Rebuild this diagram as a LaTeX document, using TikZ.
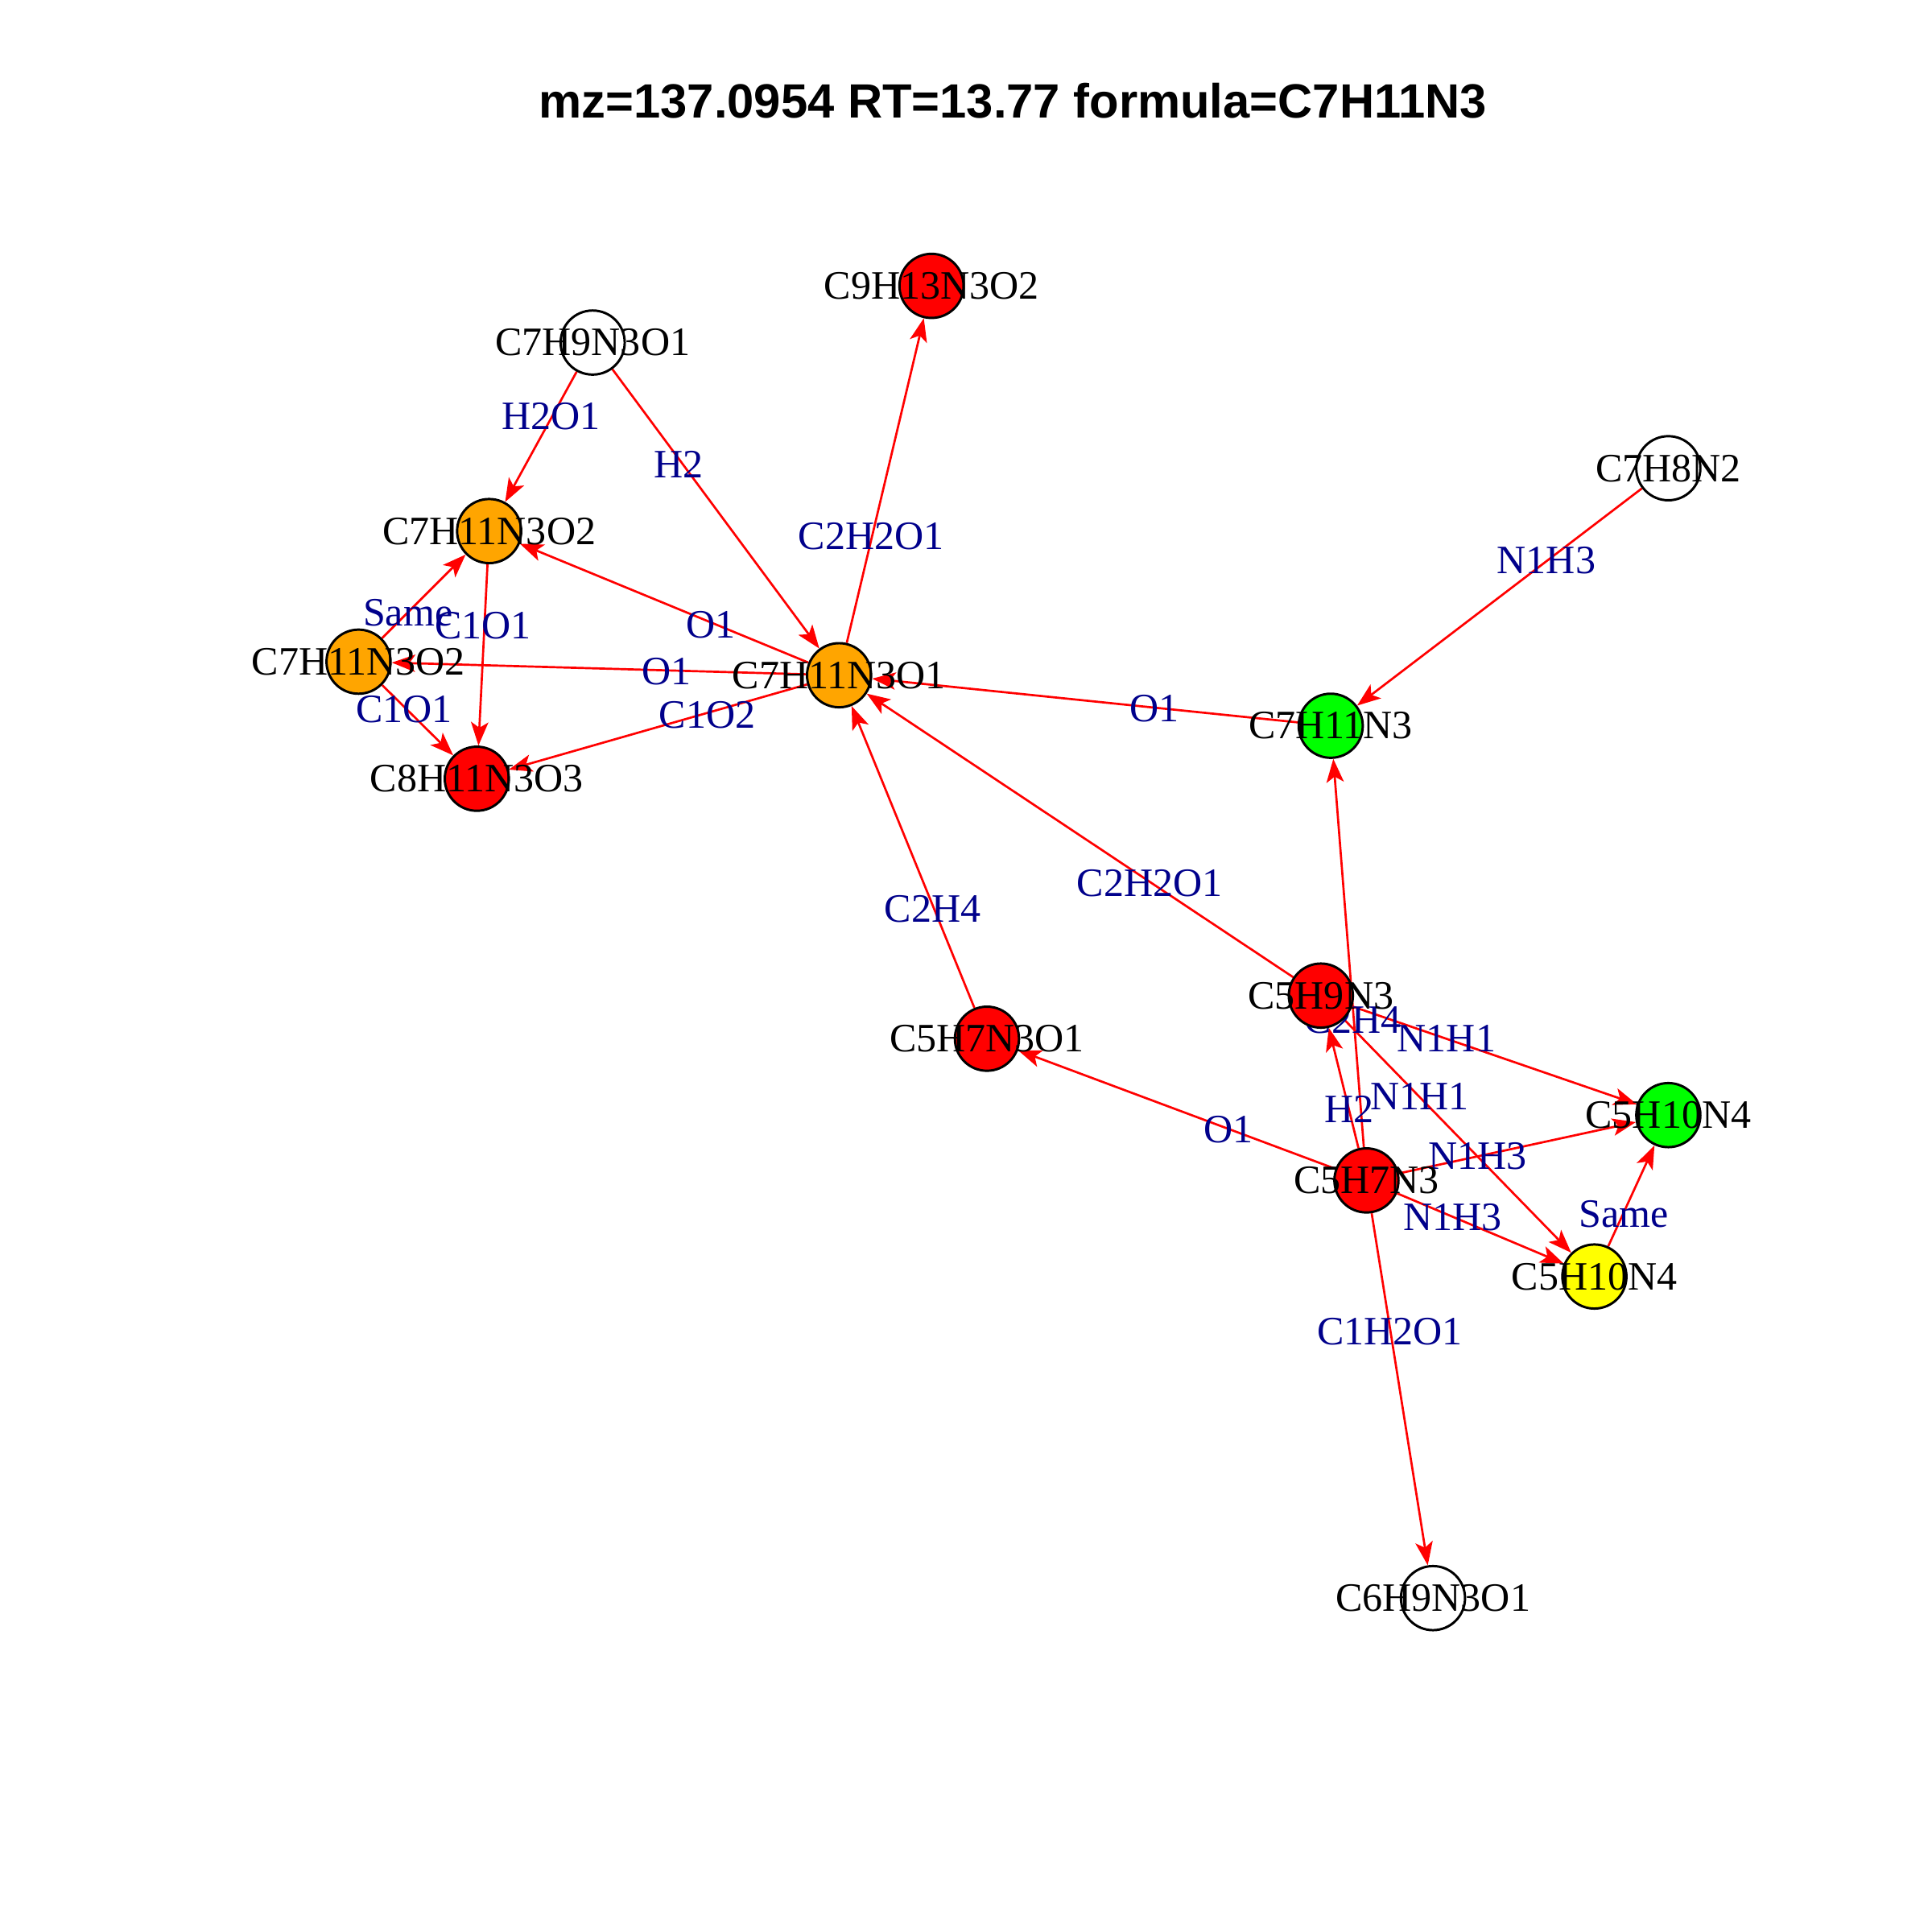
\documentclass[tikz,border=0pt]{standalone}
\usepackage{fontspec}
\setmainfont{Liberation Serif}
\newfontfamily\titlefont{Liberation Sans}
\usetikzlibrary{arrows.meta,backgrounds,calc}
\begin{document}
\begin{tikzpicture}[x=0.01cm,y=-0.01cm,
  vtx/.style={circle,draw=black,line width=0.55pt,minimum size=0.52cm,inner sep=0pt},
  vtxtext/.style={inner sep=0pt,font=\fontsize{9.3}{11}\selectfont,text=black},
  elbl/.style={inner sep=0pt,font=\fontsize{9.3}{11}\selectfont,text=navyblue},
  edg/.style={draw=red,line width=0.5pt,-{Stealth[length=5.4pt,width=4pt,inset=1.3pt]}},
  ]
\definecolor{navyblue}{RGB}{0,0,139}
\definecolor{vorange}{RGB}{255,165,0}
\definecolor{vred}{RGB}{255,0,0}
\definecolor{vgreen}{RGB}{0,255,0}
\definecolor{vyellow}{RGB}{255,255,0}
\useasboundingbox (0,0) rectangle (1568,1568);
\node[inner sep=0pt,font=\titlefont\bfseries\fontsize{11.1}{13}\selectfont] (title) at (822,82) {mz=137.0954 RT=13.77 formula=C7H11N3};
% vertices
\node[vtx,fill=vred]    (a) at (756,232) {};
\node[vtx,fill=white]   (b) at (481,278) {};
\node[vtx,fill=white]   (c) at (1354,380) {};
\node[vtx,fill=vorange] (d) at (397,431) {};
\node[vtx,fill=vorange] (e) at (291,537) {};
\node[vtx,fill=vorange] (f) at (681,548) {};
\node[vtx,fill=vgreen]  (g) at (1080,589) {};
\node[vtx,fill=vred]    (h) at (387,632) {};
\node[vtx,fill=vred]    (i) at (1072,808) {};
\node[vtx,fill=vred]    (j) at (801,843) {};
\node[vtx,fill=vgreen]  (k) at (1354,905) {};
\node[vtx,fill=vred]    (l) at (1109,958) {};
\node[vtx,fill=vyellow] (m) at (1294,1036) {};
\node[vtx,fill=white]   (n) at (1163,1297) {};
% vertex texts
\node[vtxtext] (ta) at (a) {C9H13N3O2};
\node[vtxtext] (tb) at (b) {C7H9N3O1};
\node[vtxtext] (tc) at (c) {C7H8N2};
\node[vtxtext] (td) at (d) {C7H11N3O2};
\node[vtxtext] (te) at (e) {C7H11N3O2};
\node[vtxtext] (tf) at (f) {C7H11N3O1};
\node[vtxtext] (tg) at (g) {C7H11N3};
\node[vtxtext] (th) at (h) {C8H11N3O3};
\node[vtxtext] (ti) at (i) {C5H9N3};
\node[vtxtext] (tj) at (j) {C5H7N3O1};
\node[vtxtext] (tk) at (k) {C5H10N4};
\node[vtxtext] (tl) at (l) {C5H7N3};
\node[vtxtext] (tm) at (m) {C5H10N4};
\node[vtxtext] (tn) at (n) {C6H9N3O1};
\begin{scope}[on background layer]
\fill[white] (0,0) rectangle (1568,1568);
\draw[edg] (b) -- (d);
\draw[edg] (b) -- (f);
\draw[edg] (f) -- (a);
\draw[edg] (f) -- (d);
\draw[edg] (f) -- (e);
\draw[edg] (f) -- (h);
\draw[edg] (e) -- (d);
\draw[edg] (d) -- (h);
\draw[edg] (e) -- (h);
\draw[edg] (g) -- (f);
\draw[edg] (c) -- (g);
\draw[edg] (j) -- (f);
\draw[edg] (i) -- (f);
\draw[edg] (l) -- (g);
\draw[edg] (l) -- (i);
\draw[edg] (i) -- (k);
\draw[edg] (i) -- (m);
\draw[edg] (l) -- (k);
\draw[edg] (l) -- (m);
\draw[edg] (l) -- (j);
\draw[edg] (l) -- (n);
\draw[edg] (m) -- (k);
% edge labels
\node[elbl] (l1) at (447,338) {H2O1};
\node[elbl] (l2) at (551,377) {H2};
\node[elbl] (l3) at (707,435) {C2H2O1};
\node[elbl] (l4) at (577,507) {O1};
\node[elbl] (l5) at (541,545) {O1};
\node[elbl] (l6) at (574,580) {C1O2};
\node[elbl] (l7) at (331,497) {Same};
\node[elbl] (l8) at (392,508) {C1O1};
\node[elbl] (l9) at (328,576) {C1O1};
\node[elbl] (l10) at (937,575) {O1};
\node[elbl] (l11) at (1255,455) {N1H3};
\node[elbl] (l12) at (757,738) {C2H4};
\node[elbl] (l13) at (933,717) {C2H2O1};
\node[elbl] (l14) at (1098,828) {C2H4};
\node[elbl] (l15) at (1095,900) {H2};
\node[elbl] (l16) at (1174,843) {N1H1};
\node[elbl] (l17) at (1152,890) {N1H1};
\node[elbl] (l18) at (1199,938) {N1H3};
\node[elbl] (l19) at (1179,988) {N1H3};
\node[elbl] (l20) at (997,917) {O1};
\node[elbl] (l21) at (1128,1081) {C1H2O1};
\node[elbl] (l22) at (1318,985) {Same};
\end{scope}
\end{tikzpicture}
\end{document}
